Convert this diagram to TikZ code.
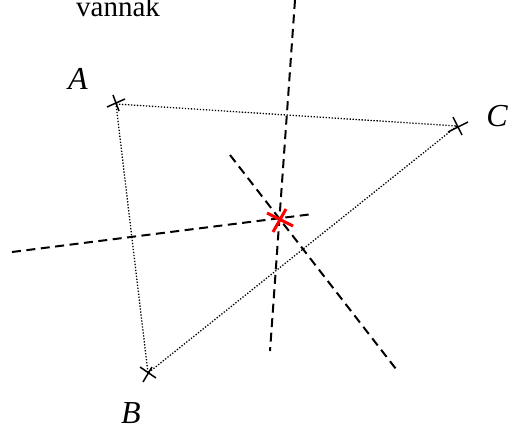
\documentclass[tikz,border=0pt]{standalone}
\usepackage{fontspec}
\setmainfont{Liberation Serif}
\begin{document}
\begin{tikzpicture}[x=1pt,y=-1pt,
  tri/.style={line width=1.3pt,dash pattern=on 1.3pt off 1.7pt},
  bis/.style={line width=2pt,dash pattern=on 9pt off 5.5pt},
  crs/.style={line width=1.5pt},
  rcrs/.style={line width=3pt,red},
  lbl/.style={font=\fontsize{32}{36}\selectfont\itshape,inner sep=0pt,anchor=base},
  txt/.style={font=\fontsize{29}{34}\selectfont,inner sep=0pt,anchor=base}]
\useasboundingbox (0,0) rectangle (508,430);
% points
\coordinate (A) at (116,104);
\coordinate (B) at (148,373);
\coordinate (C) at (457,126);
\coordinate (O) at (280,220);
% bisector ends
\coordinate (v1) at (295,0);
\coordinate (v2) at (270,351);
\coordinate (d1) at (230,155);
\coordinate (d2) at (396,369);
\coordinate (h1) at (12,252);
\coordinate (h2) at (313,214);
% triangle
\draw[tri] (A) -- (C) -- (B) -- cycle;
% perpendicular bisectors
\draw[bis] (v1) -- (v2);
\draw[bis] (d1) -- (d2);
\draw[bis] (h1) -- (h2);
% crosses
\draw[crs] ([shift={(-9,3)}]A) -- ([shift={(9,-5)}]A)
           ([shift={(-3,-9)}]A) -- ([shift={(3,7)}]A);
\draw[crs] ([shift={(-9,6)}]C) -- ([shift={(11,-4)}]C)
           ([shift={(-4,-9)}]C) -- ([shift={(5,9)}]C);
\draw[crs] ([shift={(-8,-6)}]B) -- ([shift={(8,5)}]B)
           ([shift={(-5,9)}]B) -- ([shift={(4,-6)}]B);
\draw[rcrs] ([shift={(-13,-7)}]O) -- ([shift={(13,6)}]O)
            ([shift={(6,-11)}]O) -- ([shift={(-7,12)}]O);
% labels
\node[txt] (t) at (118,17) {vannak};
\node[lbl] (la) at (78,90) {A};
\node[lbl] (lb) at (131,423) {B};
\node[lbl] (lc) at (497,127) {C};
\end{tikzpicture}
\end{document}
